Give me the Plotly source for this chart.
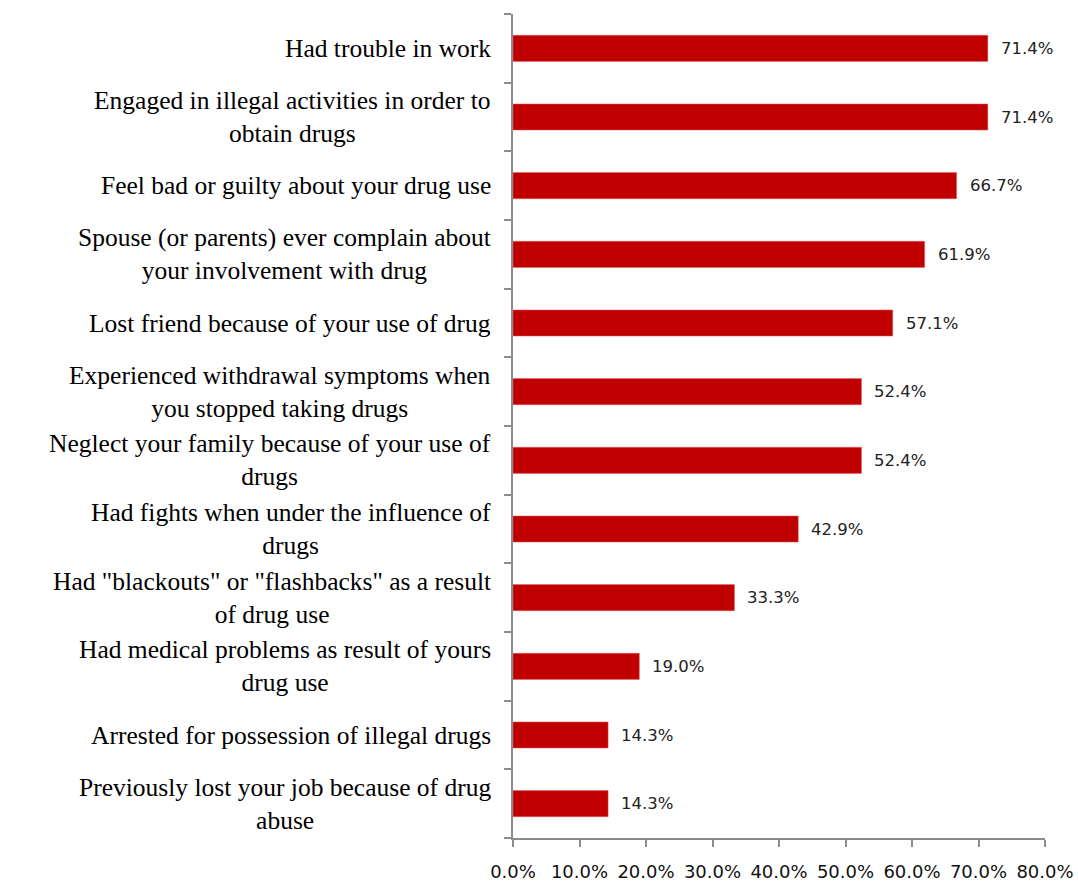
import plotly.graph_objects as go

categories = [
    "Had trouble in work",
    "Engaged in illegal activities in order to<br>obtain drugs",
    "Feel bad or guilty about your drug use",
    "Spouse (or parents) ever complain about<br>your involvement with drug",
    "Lost friend because of your use of drug",
    "Experienced withdrawal symptoms when<br>you stopped taking drugs",
    "Neglect your family because of your use of<br>drugs",
    "Had fights when under the influence of<br>drugs",
    "Had \"blackouts\" or \"flashbacks\" as a result<br>of drug use",
    "Had medical problems as result of yours<br>drug use",
    "Arrested for possession of illegal drugs",
    "Previously lost your job because of drug<br>abuse",
]
values = [0.714, 0.714, 0.667, 0.619, 0.571, 0.524, 0.524, 0.429, 0.333, 0.190, 0.143, 0.143]
value_labels = ["71.4%", "71.4%", "66.7%", "61.9%", "57.1%", "52.4%", "52.4%", "42.9%", "33.3%", "19.0%", "14.3%", "14.3%"]
x_ticks = [0, 0.1, 0.2, 0.3, 0.4, 0.5, 0.6, 0.7, 0.8]
x_tick_labels = ["0.0%", "10.0%", "20.0%", "30.0%", "40.0%", "50.0%", "60.0%", "70.0%", "80.0%"]

ids = [f"c{i}" for i in range(len(categories))]

fig = go.Figure()
fig.add_trace(go.Bar(
    x=values, y=ids, orientation="h",
    marker=dict(color="#C00000", line=dict(color="#E06060", width=0.5)),
    hoverinfo="skip",
))

annotations = []
for cid, cat in zip(ids, categories):
    annotations.append(dict(
        x=0, xref="paper", y=cid, yref="y", text=cat, showarrow=False,
        xanchor="right", yanchor="middle", align="center", xshift=-20,
        font=dict(family="Liberation Serif", size=25.5, color="#000000"),
    ))
for cid, v, lab in zip(ids, values, value_labels):
    annotations.append(dict(
        x=v, xref="x", y=cid, yref="y", text=lab, showarrow=False,
        xanchor="left", yanchor="middle", xshift=11,
        font=dict(family="DejaVu Sans", size=16.5, color="#222222"),
    ))

fig.update_layout(
    width=1078, height=882,
    margin=dict(l=513, r=33, t=14, b=44, autoexpand=False),
    plot_bgcolor="white", paper_bgcolor="white",
    showlegend=False,
    bargap=0.62,
    annotations=annotations,
    xaxis=dict(
        range=[0, 0.8], tickvals=x_ticks, ticktext=x_tick_labels,
        showgrid=False, zeroline=False, automargin=False,
        showline=True, linecolor="#8C8C8C", linewidth=1.5,
        ticks="outside", ticklen=7, tickcolor="#8C8C8C", tickwidth=1.5,
        ticklabelstandoff=10,
        tickfont=dict(family="DejaVu Sans", size=18, color="#111111"),
    ),
    yaxis=dict(
        type="category", categoryorder="array", categoryarray=ids[::-1],
        showticklabels=False, showgrid=False, zeroline=False, automargin=False,
        showline=True, linecolor="#8C8C8C", linewidth=1.5,
        ticks="outside", ticklen=7, tickcolor="#8C8C8C", tickwidth=1.5,
        tickson="boundaries",
    ),
)

fig.write_html(
    "out.html",
    config={"displayModeBar": False},
    post_script="document.body.style.margin='0';document.body.style.overflow='hidden';",
)
